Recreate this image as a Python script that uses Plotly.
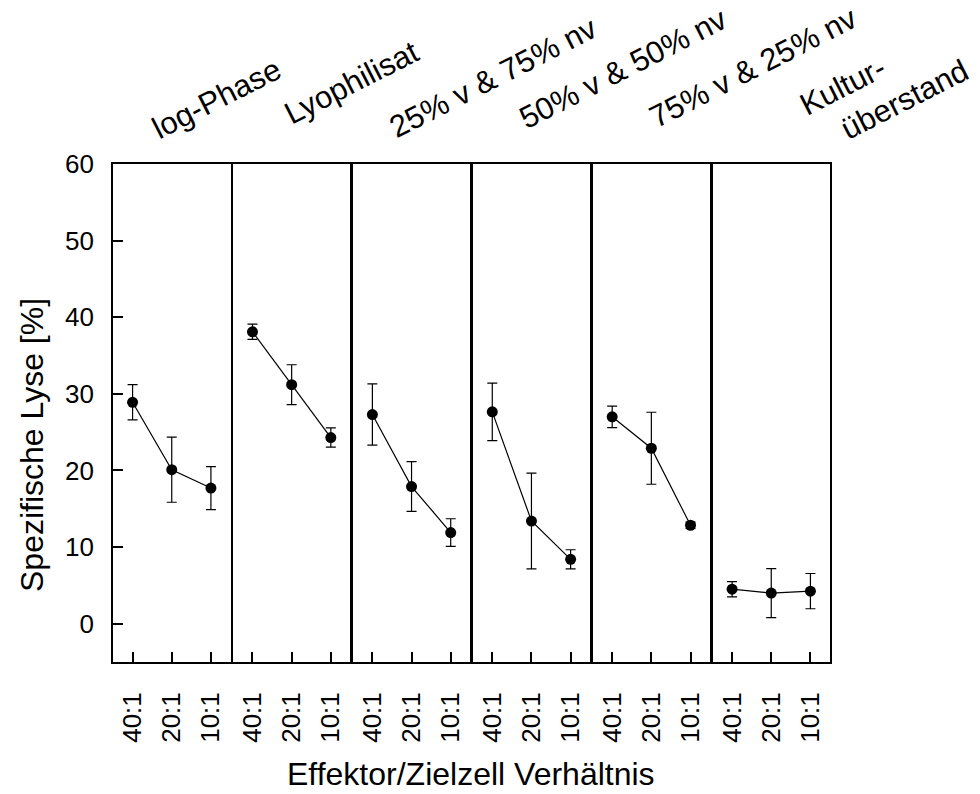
import plotly.graph_objects as go

panels = ["log-Phase", "Lyophilisat", "25% v & 75% nv", "50% v & 50% nv", "75% v & 25% nv", "Kultur-überstand"]
ratios = ["40:1", "20:1", "10:1"]
means = [
    [28.9, 20.1, 17.7],
    [38.1, 31.2, 24.3],
    [27.3, 17.9, 11.9],
    [27.65, 13.4, 8.4],
    [27.0, 22.9, 12.85],
    [4.5, 4.0, 4.25],
]
errs = [
    [2.3, 4.25, 2.8],
    [1.0, 2.6, 1.25],
    [4.0, 3.25, 1.8],
    [3.75, 6.25, 1.25],
    [1.4, 4.7, 0.4],
    [1.0, 3.2, 2.3],
]
y_ticks = [0, 10, 20, 30, 40, 50, 60]

FONT = "Liberation Sans, Arial, sans-serif"
W, H = 980, 794
ML, MR, MT, MB = 113, 150, 164, 132
PW = W - ML - MR
PH = H - MT - MB
GAP = 2.4
n = len(panels)
pw = (PW - GAP * (n - 1)) / n

fig = go.Figure()
for i in range(n):
    ax = "" if i == 0 else str(i + 1)
    fig.add_trace(go.Scatter(
        x=list(range(len(ratios))), y=means[i],
        error_y=dict(type="data", array=errs[i], visible=True, color="black", thickness=1.2, width=5),
        mode="lines+markers",
        line=dict(color="black", width=1.2),
        marker=dict(color="black", size=11),
        xaxis="x" + ax, yaxis="y" + ax, showlegend=False,
    ))
    d0 = i * (pw + GAP) / PW
    d1 = (i * (pw + GAP) + pw) / PW
    xa = dict(domain=[d0, d1], range=[-0.5, 2.5], tickmode="array",
              tickvals=list(range(len(ratios))), ticktext=ratios, tickangle=-90,
              ticks="inside", ticklen=10, tickwidth=1.5, tickcolor="black",
              showline=True, linecolor="black", linewidth=1.6, mirror=True,
              showgrid=False, zeroline=False, ticklabelstandoff=18,
              tickfont=dict(family=FONT, size=26, color="black"),
              anchor="y" + ax)
    ya = dict(range=[-5, 60], showline=True, linecolor="black", linewidth=1.6, mirror=True,
              showgrid=False, zeroline=False, anchor="x" + ax, domain=[0, 1])
    if i == 0:
        ya.update(tickmode="array", tickvals=y_ticks, ticks="inside", ticklen=10, tickwidth=1.5,
                  tickcolor="black", ticklabelstandoff=12,
                  tickfont=dict(family=FONT, size=26, color="black"))
    else:
        ya.update(showticklabels=False, ticks="")
    fig.layout["xaxis" + ax] = xa
    fig.layout["yaxis" + ax] = ya

def px2paper(px, py):
    return (px - ML) / PW, (H - MB - py) / PH

annos = []
ANG = -27
label_pos = [(217, 99), (352, 83), (493, 77), (623, 68), (753, 67)]
for (px, py), txt in zip(label_pos, panels[:5]):
    x, y = px2paper(px, py)
    annos.append(dict(text=txt, x=x, y=y, xref="paper", yref="paper", showarrow=False,
                      textangle=ANG, xanchor="center", yanchor="middle",
                      font=dict(family=FONT, size=31, color="black")))
k1, k2 = panels[5].split("-")
for (px, py), txt in zip([(842, 86), (905, 100)], [k1 + "-", k2]):
    x, y = px2paper(px, py)
    annos.append(dict(text=txt, x=x, y=y, xref="paper", yref="paper", showarrow=False,
                      textangle=ANG, xanchor="center", yanchor="middle",
                      font=dict(family=FONT, size=31, color="black")))
x, y = px2paper(471, 774)
annos.append(dict(text="Effektor/Zielzell Verhältnis", x=x, y=y, xref="paper", yref="paper",
                  showarrow=False, xanchor="center", yanchor="middle",
                  font=dict(family=FONT, size=32, color="black")))
x, y = px2paper(32, 445)
annos.append(dict(text="Spezifische Lyse [%]", x=x, y=y, xref="paper", yref="paper",
                  showarrow=False, xanchor="center", yanchor="middle", textangle=-90,
                  font=dict(family=FONT, size=32, color="black")))

fig.update_layout(width=W, height=H, margin=dict(l=ML, r=MR, t=MT, b=MB),
                  paper_bgcolor="white", plot_bgcolor="white", annotations=annos,
                  font=dict(family=FONT, color="black"))
fig.write_html("out.html")
